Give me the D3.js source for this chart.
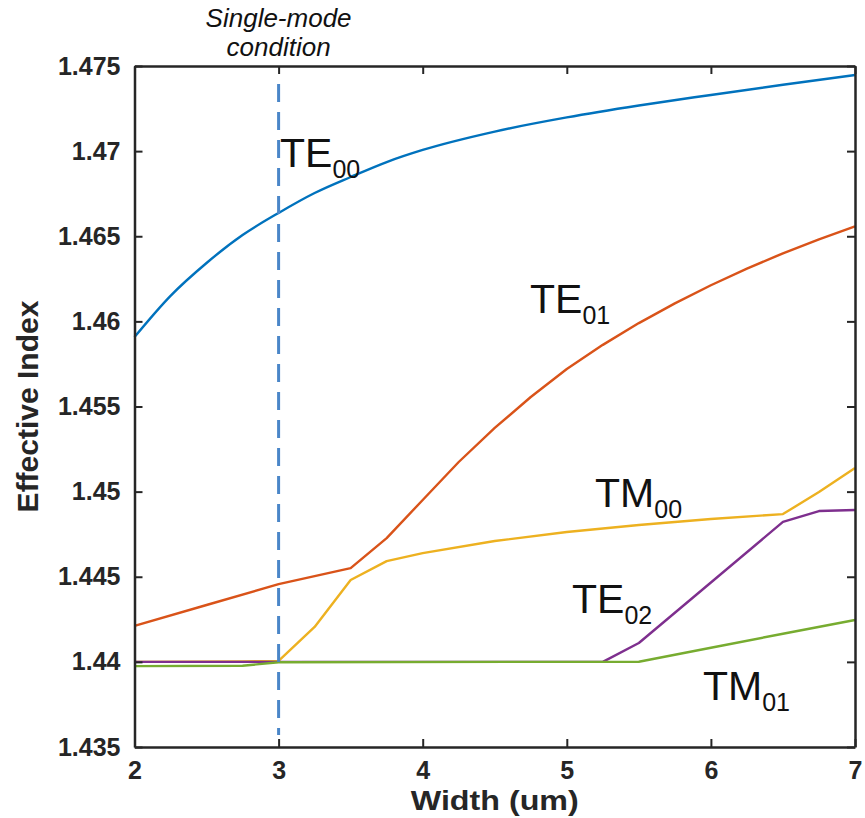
<!DOCTYPE html>
<html>
<head>
<meta charset="utf-8">
<script src="https://cdn.jsdelivr.net/npm/d3@7"></script>
<style>
  html, body { margin: 0; padding: 0; background: #fff; }
  svg { display: block; }
  text { font-family: "Liberation Sans", Arial, Helvetica, sans-serif; }
</style>
</head>
<body>
<svg id="chart" width="865" height="818"></svg>
<script>
// ---- data ----
const xTicks = [2, 3, 4, 5, 6, 7];
const yTicks = [1.435, 1.44, 1.445, 1.45, 1.455, 1.46, 1.465, 1.47, 1.475];
const yTickLabels = ["1.435", "1.44", "1.445", "1.45", "1.455", "1.46", "1.465", "1.47", "1.475"];

const te00X = [2, 2.25, 2.5, 2.75, 3, 3.25, 3.5, 3.75, 4, 4.5, 5, 5.5, 6, 6.5, 7];
const te00Y = [1.45908, 1.46150, 1.46343, 1.46507, 1.46637, 1.46754, 1.46848, 1.46936, 1.47007, 1.47115, 1.47198, 1.47268, 1.47330, 1.47390, 1.47447];

const te01X = [2, 2.5, 3, 3.5, 3.75, 4, 4.25, 4.5, 4.75, 5, 5.25, 5.5, 5.75, 6, 6.25, 6.5, 6.75, 7];
const te01Y = [1.44211, 1.44334, 1.44457, 1.44551, 1.44727, 1.44951, 1.45174, 1.45374, 1.45556, 1.45720, 1.45862, 1.45990, 1.46106, 1.46212, 1.46310, 1.46400, 1.46482, 1.46558];

const tm00X = [2, 2.75, 3, 3.25, 3.5, 3.75, 4, 4.5, 5, 5.5, 6, 6.5, 6.75, 7];
const tm00Y = [1.44000, 1.44002, 1.44006, 1.44205, 1.44481, 1.44592, 1.44639, 1.44710, 1.44763, 1.44804, 1.44839, 1.44868, 1.44998, 1.45139];

const te02X = [2, 5.25, 5.5, 6, 6.5, 6.75, 7];
const te02Y = [1.44000, 1.44000, 1.44111, 1.44466, 1.44822, 1.44886, 1.44892];

const tm01X = [2, 2.75, 3, 5.5, 6, 6.5, 7];
const tm01Y = [1.43975, 1.43977, 1.43998, 1.44001, 1.44083, 1.44165, 1.44246];

const seriesNames = ["TE", "TE", "TM", "TE", "TM"];
const seriesSubs = ["00", "01", "00", "02", "01"];
const seriesColors = ["#0072BD", "#D95319", "#EDB120", "#7E2F8E", "#77AC30"];

const singleModeX = 3;
const annotationLines = ["Single-mode", "condition"];
const xTitle = "Width (um)";
const yTitle = "Effective Index";

(function () {
// ---- layout ----
const svg = d3.select("#chart");
const mLeft = 134.5, mRight = 855, mTop = 66, mBottom = 747;
const x = d3.scaleLinear().domain([2, 7]).range([mLeft, mRight]);
const y = d3.scaleLinear().domain([1.435, 1.475]).range([mBottom, mTop]);
const axisColor = "#262626";

const seriesData = [
  te00X.map((v, i) => [v, te00Y[i]]),
  te01X.map((v, i) => [v, te01Y[i]]),
  tm00X.map((v, i) => [v, tm00Y[i]]),
  te02X.map((v, i) => [v, te02Y[i]]),
  tm01X.map((v, i) => [v, tm01Y[i]])
];

// lines
seriesData.forEach((d, i) => {
  const line = d3.line()
    .x(p => x(p[0])).y(p => y(p[1]))
    .curve(i === 0 ? d3.curveMonotoneX : d3.curveLinear);
  svg.append("path")
    .datum(d)
    .attr("d", line)
    .attr("fill", "none")
    .attr("stroke", seriesColors[i])
    .attr("stroke-width", 2.4)
    .attr("stroke-linejoin", "round");
});

// dashed single-mode line
svg.append("line")
  .attr("x1", x(singleModeX)).attr("x2", x(singleModeX))
  .attr("y1", y(1.475) + 18).attr("y2", y(1.435) - 12)
  .attr("stroke", "#4A86C8")
  .attr("stroke-width", 3)
  .attr("stroke-dasharray", "18,10");

// axes (box with inward ticks)
const axB = d3.axisBottom(x).tickValues(xTicks).tickSizeInner(-8).tickSizeOuter(0).tickFormat(d3.format("d")).tickPadding(14);
const axT = d3.axisTop(x).tickValues(xTicks).tickSizeInner(-8).tickSizeOuter(0).tickFormat("");
const axL = d3.axisLeft(y).tickValues(yTicks).tickSizeInner(-8).tickSizeOuter(0)
  .tickFormat((d, i) => yTickLabels[i]).tickPadding(14);
const axR = d3.axisRight(y).tickValues(yTicks).tickSizeInner(-8).tickSizeOuter(0).tickFormat("");

function styleAxis(g) {
  g.select(".domain").attr("stroke", axisColor).attr("stroke-width", 2.5);
  g.selectAll(".tick line").attr("stroke", axisColor).attr("stroke-width", 2);
  g.selectAll(".tick text")
    .attr("fill", axisColor)
    .style("font-size", "25px")
    .style("font-weight", "bold")
    .style("font-family", "'Liberation Sans', Arial, sans-serif");
}
svg.append("g").attr("transform", `translate(0,${mBottom})`).call(axB).call(styleAxis);
svg.append("g").attr("transform", `translate(0,${mTop})`).call(axT).call(styleAxis);
svg.append("g").attr("transform", `translate(${mLeft},0)`).call(axL).call(styleAxis);
svg.append("g").attr("transform", `translate(${mRight},0)`).call(axR).call(styleAxis);

// axis titles
svg.append("text")
  .attr("x", (mLeft + mRight) / 2).attr("y", 810)
  .attr("text-anchor", "middle")
  .attr("fill", axisColor)
  .attr("textLength", 168).attr("lengthAdjust", "spacingAndGlyphs")
  .style("font-size", "28px").style("font-weight", "bold")
  .text(xTitle);
svg.append("text")
  .attr("transform", `translate(38,${(mTop + mBottom) / 2}) rotate(-90)`)
  .attr("text-anchor", "middle")
  .attr("fill", axisColor)
  .style("font-size", "30px").style("font-weight", "bold")
  .text(yTitle);

// annotation
svg.append("text")
  .attr("x", x(singleModeX)).attr("y", 27)
  .attr("text-anchor", "middle")
  .style("font-size", "26px").style("font-style", "italic")
  .attr("fill", "#111")
  .text(annotationLines[0]);
svg.append("text")
  .attr("x", x(singleModeX)).attr("y", 56)
  .attr("text-anchor", "middle")
  .style("font-size", "26px").style("font-style", "italic")
  .attr("fill", "#111")
  .text(annotationLines[1]);

// mode labels (position in data units)
const labelPos = [[3.01, 1.46907], [4.745, 1.46049], [5.196, 1.44910], [5.036, 1.44287], [5.945, 1.43776]];
labelPos.forEach((p, i) => {
  const t = svg.append("text")
    .attr("x", x(p[0])).attr("y", y(p[1]))
    .attr("fill", "#111")
    .style("font-size", "41px");
  t.append("tspan").text(seriesNames[i]);
  t.append("tspan").attr("dy", 11).style("font-size", "25px").text(seriesSubs[i]);
});
})();
</script>
</body>
</html>
